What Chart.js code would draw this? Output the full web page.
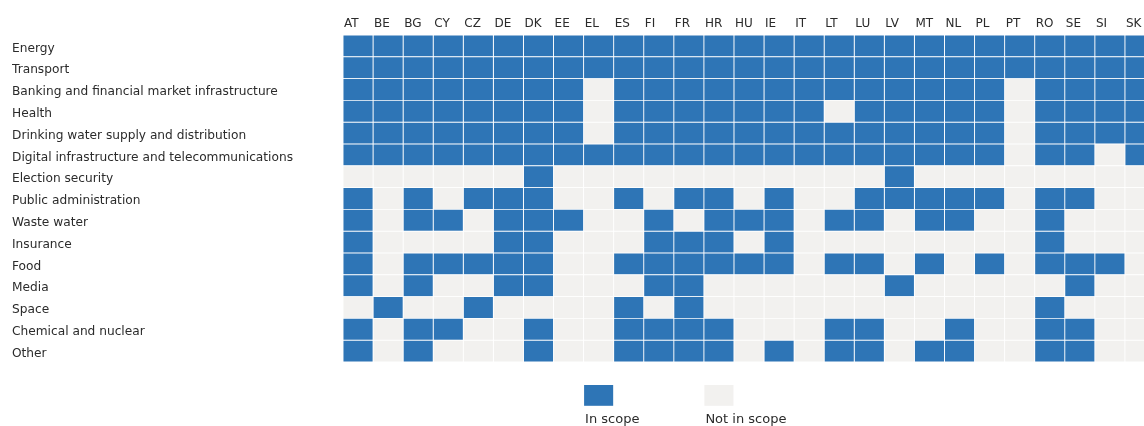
<!DOCTYPE html>
<html>
<head>
<meta charset="utf-8">
<script src="https://cdn.jsdelivr.net/npm/chart.js@4"></script>
<style>
  body { margin: 0; background: #fff; overflow: hidden; }
  #wrap { width: 1160px; height: 426px; position: relative; }
</style>
</head>
<body>
<div id="wrap"><canvas id="scopeChart"></canvas></div>
<script>
const countries = ['AT', 'BE', 'BG', 'CY', 'CZ', 'DE', 'DK', 'EE', 'EL', 'ES', 'FI', 'FR', 'HR', 'HU', 'IE', 'IT', 'LT', 'LU', 'LV', 'MT', 'NL', 'PL', 'PT', 'RO', 'SE', 'SI', 'SK'];

const sectors = ['Energy', 'Transport', 'Banking and financial market infrastructure', 'Health',
  'Drinking water supply and distribution', 'Digital infrastructure and telecommunications',
  'Election security', 'Public administration', 'Waste water', 'Insurance', 'Food', 'Media',
  'Space', 'Chemical and nuclear', 'Other'];

// 1 = in scope, 0 = not in scope (one value per country, same order as countries)
//                 AT BE BG CY CZ DE DK EE EL ES FI FR HR HU IE IT LT LU LV MT NL PL PT RO SE SI SK
const energy     = [1, 1, 1, 1, 1, 1, 1, 1, 1, 1, 1, 1, 1, 1, 1, 1, 1, 1, 1, 1, 1, 1, 1, 1, 1, 1, 1];
const transport  = [1, 1, 1, 1, 1, 1, 1, 1, 1, 1, 1, 1, 1, 1, 1, 1, 1, 1, 1, 1, 1, 1, 1, 1, 1, 1, 1];
const banking    = [1, 1, 1, 1, 1, 1, 1, 1, 0, 1, 1, 1, 1, 1, 1, 1, 1, 1, 1, 1, 1, 1, 0, 1, 1, 1, 1];
const health     = [1, 1, 1, 1, 1, 1, 1, 1, 0, 1, 1, 1, 1, 1, 1, 1, 0, 1, 1, 1, 1, 1, 0, 1, 1, 1, 1];
const water      = [1, 1, 1, 1, 1, 1, 1, 1, 0, 1, 1, 1, 1, 1, 1, 1, 1, 1, 1, 1, 1, 1, 0, 1, 1, 1, 1];
const digital    = [1, 1, 1, 1, 1, 1, 1, 1, 1, 1, 1, 1, 1, 1, 1, 1, 1, 1, 1, 1, 1, 1, 0, 1, 1, 0, 1];
const election   = [0, 0, 0, 0, 0, 0, 1, 0, 0, 0, 0, 0, 0, 0, 0, 0, 0, 0, 1, 0, 0, 0, 0, 0, 0, 0, 0];
const publicAdm  = [1, 0, 1, 0, 1, 1, 1, 0, 0, 1, 0, 1, 1, 0, 1, 0, 0, 1, 1, 1, 1, 1, 0, 1, 1, 0, 0];
const wasteWater = [1, 0, 1, 1, 0, 1, 1, 1, 0, 0, 1, 0, 1, 1, 1, 0, 1, 1, 0, 1, 1, 0, 0, 1, 0, 0, 0];
const insurance  = [1, 0, 0, 0, 0, 1, 1, 0, 0, 0, 1, 1, 1, 0, 1, 0, 0, 0, 0, 0, 0, 0, 0, 1, 0, 0, 0];
const food       = [1, 0, 1, 1, 1, 1, 1, 0, 0, 1, 1, 1, 1, 1, 1, 0, 1, 1, 0, 1, 0, 1, 0, 1, 1, 1, 0];
const media      = [1, 0, 1, 0, 0, 1, 1, 0, 0, 0, 1, 1, 0, 0, 0, 0, 0, 0, 1, 0, 0, 0, 0, 0, 1, 0, 0];
const space      = [0, 1, 0, 0, 1, 0, 0, 0, 0, 1, 0, 1, 0, 0, 0, 0, 0, 0, 0, 0, 0, 0, 0, 1, 0, 0, 0];
const chemical   = [1, 0, 1, 1, 0, 0, 1, 0, 0, 1, 1, 1, 1, 0, 0, 0, 1, 1, 0, 0, 1, 0, 0, 1, 1, 0, 0];
const other      = [1, 0, 1, 0, 0, 0, 1, 0, 0, 1, 1, 1, 1, 0, 1, 0, 1, 1, 0, 1, 1, 0, 0, 1, 1, 0, 0];

const matrix = [energy, transport, banking, health, water, digital, election, publicAdm,
  wasteWater, insurance, food, media, space, chemical, other];

const legendLabels = ['In scope', 'Not in scope'];

const BLUE = '#2e75b6';
const GREY = '#f2f1ef';
const TEXT = '#2b2b2b';
const FONT = 'Verdana, "DejaVu Sans", sans-serif';

// one stacked dataset per country, each cell one unit wide
const datasets = countries.map((c, ci) => ({
  label: c,
  data: sectors.map(() => 1),
  backgroundColor: sectors.map((s, ri) => matrix[ri][ci] ? BLUE : GREY),
  borderColor: '#ffffff',
  borderWidth: 0.8,
  borderSkipped: false,
  barPercentage: 1,
  categoryPercentage: 1
}));

const legendPlugin = {
  id: 'scopeLegend',
  afterDraw(chart) {
    const c = chart.ctx;
    const x = chart.scales.x;
    const y = chart.scales.y;
    const rowH = (y.bottom - y.top) / sectors.length;
    const top = chart.chartArea.bottom + 23;
    const starts = [8, 12];
    [BLUE, GREY].forEach((col, i) => {
      const left = x.getPixelForValue(starts[i]) + 0.5;
      const w = x.getPixelForValue(starts[i] + 1) - x.getPixelForValue(starts[i]) - 1;
      c.save();
      c.fillStyle = col;
      c.fillRect(left, top, w, rowH - 1);
      c.fillStyle = TEXT;
      c.font = '13px ' + FONT;
      c.textAlign = 'left';
      c.textBaseline = 'middle';
      c.fillText(legendLabels[i], left + 1, top + rowH + 13);
      c.restore();
    });
  }
};

new Chart(document.getElementById('scopeChart'), {
  type: 'bar',
  data: { labels: sectors, datasets: datasets },
  options: {
    indexAxis: 'y',
    responsive: true,
    maintainAspectRatio: false,
    animation: false,
    layout: { padding: { left: 12, right: 5, top: 0, bottom: 64 } },
    plugins: { legend: { display: false }, tooltip: { enabled: false } },
    scales: {
      x: { type: 'linear', stacked: true, min: 0, max: countries.length, display: false },
      x2: {
        type: 'category',
        labels: countries,
        position: 'top',
        offset: true,
        grid: { display: false, drawTicks: false },
        border: { display: false },
        ticks: {
          align: 'start',
          labelOffset: -14,
          padding: 4,
          autoSkip: false,
          maxRotation: 0,
          color: TEXT,
          font: { family: FONT, size: 12 }
        },
        afterFit(scale) { scale.height = 35; }
      },
      y: {
        stacked: true,
        grid: { display: false, drawTicks: false },
        border: { display: false },
        ticks: {
          crossAlign: 'far',
          labelOffset: 2.5,
          autoSkip: false,
          color: TEXT,
          font: { family: FONT, size: 12.2 }
        },
        afterFit(scale) { scale.width = 331; }
      }
    }
  },
  plugins: [legendPlugin]
});
</script>
</body>
</html>
